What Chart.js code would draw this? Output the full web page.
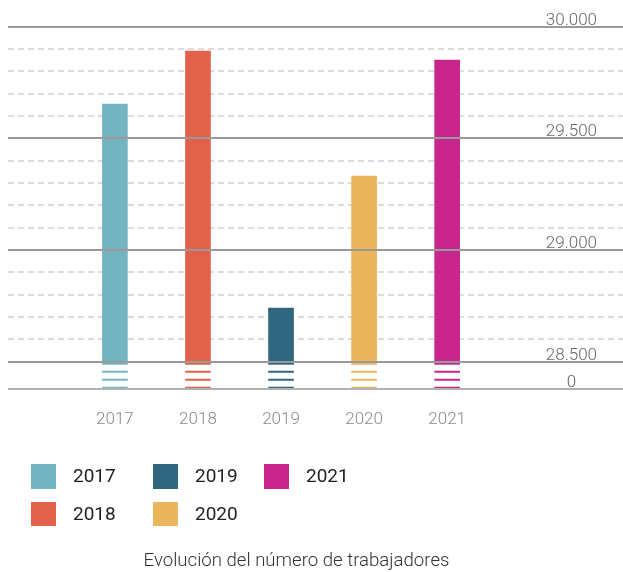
<!DOCTYPE html>
<html>
<head>
<meta charset="utf-8">
<script src="https://cdn.jsdelivr.net/npm/chart.js@4/dist/chart.umd.min.js"></script>
<style>
  html, body { margin: 0; padding: 0; background: #fff; }
  #wrap { position: relative; width: 623px; height: 572px; }
  #chart { position: absolute; left: 0; top: 0; }
  #legend { position: absolute; left: 31px; top: 464px; display: grid;
    grid-template-columns: 122px 111px auto; grid-template-rows: 37.7px 37.7px; grid-auto-flow: column; }
  .li { display: flex; align-items: center; height: 24.5px; }
  .sw { width: 25px; height: 24.5px; margin-right: 17px; }
  .lt { font-family: Roboto, sans-serif; font-size: 19px; color: #222; line-height: 20px; }
  #title { position: absolute; left: 0; width: 593px; top: 551px; text-align: center;
    font-family: Roboto, sans-serif; font-weight: 300; font-size: 18.6px; line-height: 18px; color: #333; }
</style>
</head>
<body>
<div id="wrap">
  <canvas id="chart" width="623" height="572"></canvas>
  <div id="legend"></div>
  <div id="title">Evolución del número de trabajadores</div>
</div>
<script>
// ---- data ----
const categories = ['2017', '2018', '2019', '2020', '2021'];
const workers = [29653, 29890, 28740, 29331, 29850];
const majorTicks = [28500, 29000, 29500, 30000];
const breakLabel = '0';
const axisBreakValue = 28378;   // value drawn at the broken-axis baseline (labelled "0")
const minorStep = 100;

// ---- styling ----
const colors = ['#74B4C1', '#E1614A', '#2E677E', '#EAB55B', '#C8268A'];
const axisFont = { family: 'Roboto, sans-serif', size: 17, weight: 300 };

const fmt = v => String(v).replace(/\B(?=(\d{3})+(?!\d))/g, '.');
const isMajor = v => majorTicks.includes(v) || v === axisBreakValue;
const noPad = s => { s.width = 0; s.paddingTop = 0; s.paddingBottom = 0; };

const axisBreak = {
  id: 'axisBreak',
  afterDatasetsDraw(chart) {
    const py = chart.scales.y.getPixelForValue(majorTicks[0]);
    const ctx = chart.ctx;
    ctx.save();
    ctx.fillStyle = '#ffffff';
    chart.data.datasets.forEach((ds, i) => {
      chart.getDatasetMeta(i).data.forEach(bar => {
        const p = bar.getProps(['x', 'width'], true);
        [[3, 9], [11, 17], [19, 25]].forEach(([a, b]) => {
          ctx.fillRect(p.x - p.width / 2 - 1, py + a, p.width + 2, b - a);
        });
      });
    });
    ctx.restore();
  }
};

const datasets = categories.map((c, i) => ({
  label: c,
  data: [{ x: Number(c), y: workers[i] }],
  backgroundColor: colors[i],
  base: axisBreakValue,
  barThickness: 25,
  grouped: false
}));

const chart = new Chart(document.getElementById('chart'), {
  type: 'bar',
  data: { datasets },
  plugins: [axisBreak],
  options: {
    responsive: false,
    animation: false,
    devicePixelRatio: 1,
    layout: { padding: { top: 26.5, left: 8, right: 0, bottom: 141 } },
    plugins: { legend: { display: false }, title: { display: false }, tooltip: { enabled: false } },
    scales: {
      x: {
        type: 'linear',
        offset: false,
        min: 2015.713, max: 2023.117,
        afterBuildTicks: s => { s.ticks = categories.map(c => ({ value: Number(c) })); },
        afterFit: s => { s.height = 42; },
        grid: { display: false, offset: false },
        border: { display: false },
        ticks: {
          padding: 13,
          color: '#8a8a8a',
          font: axisFont,
          callback: (v, i) => categories[i]
        }
      },
      y: {
        type: 'linear',
        position: 'right',
        min: axisBreakValue, max: majorTicks[majorTicks.length - 1],
        afterBuildTicks: s => {
          const t = [{ value: axisBreakValue }];
          for (let v = majorTicks[0]; v <= majorTicks[majorTicks.length - 1]; v += minorStep) t.push({ value: v });
          s.ticks = t;
        },
        afterFit: noPad,
        grid: {
          drawTicks: false,
          lineWidth: 2,
          color: c => isMajor(c.tick.value) ? 'rgba(0,0,0,0)' : '#dcdcdc'
        },
        border: { display: false, dash: [6, 4] },
        ticks: {
          autoSkip: false,
          mirror: true,
          crossAlign: 'center',
          padding: -26,
          labelOffset: -6,
          color: '#666',
          font: axisFont,
          callback: v => v === axisBreakValue ? breakLabel : (majorTicks.includes(v) ? fmt(v) : '')
        }
      },
      yMajor: {
        type: 'linear',
        position: 'right',
        min: axisBreakValue, max: majorTicks[majorTicks.length - 1],
        afterBuildTicks: s => { s.ticks = [axisBreakValue, ...majorTicks].map(v => ({ value: v })); },
        afterFit: noPad,
        ticks: { display: false, autoSkip: false },
        grid: {
          z: 1,
          drawTicks: false,
          lineWidth: 2,
          color: c => c.tick.value === axisBreakValue ? '#b2b2b2' : '#9a9a9a'
        },
        border: { display: false }
      }
    }
  }
});

// HTML legend built from the chart's own legend items
const items = Chart.defaults.plugins.legend.labels.generateLabels(chart);
const legendEl = document.getElementById('legend');
items.forEach(it => {
  const d = document.createElement('div');
  d.className = 'li';
  const sw = document.createElement('span');
  sw.className = 'sw';
  sw.style.background = it.fillStyle;
  const t = document.createElement('span');
  t.className = 'lt';
  t.textContent = it.text;
  d.appendChild(sw); d.appendChild(t);
  legendEl.appendChild(d);
});
</script>
</body>
</html>
